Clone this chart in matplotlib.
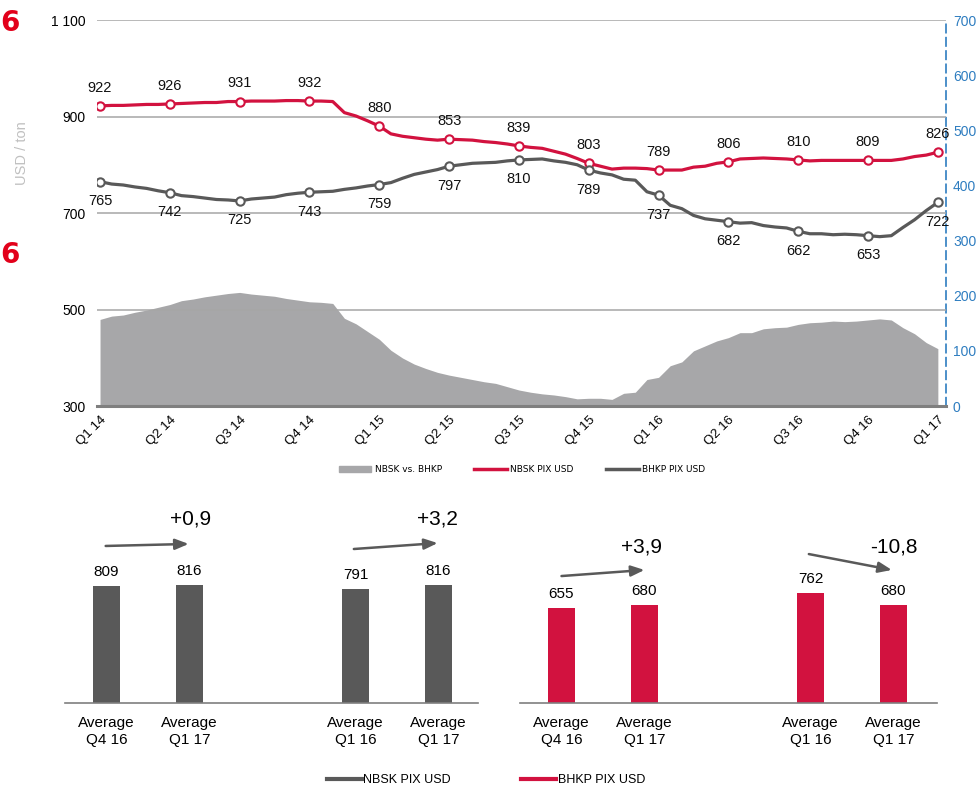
import numpy as np
import matplotlib
matplotlib.use('Agg')
import matplotlib.pyplot as plt
from matplotlib.lines import Line2D
from matplotlib.patches import Patch

plt.rcParams['font.family'] = ['Liberation Sans', 'DejaVu Sans']

RED = '#d2123f'
DARK = '#595959'
AREA = '#a7a7a9'
BLUE = '#2e7dc0'
GRID = '#a6a6a6'

# Quarter tick labels (one every 6 points, ~ bi-weekly data)
quarters = ['Q1 14', 'Q2 14', 'Q3 14', 'Q4 14', 'Q1 15', 'Q2 15', 'Q3 15',
            'Q4 15', 'Q1 16', 'Q2 16', 'Q3 16', 'Q4 16', 'Q1 17']

nbsk = [922, 923, 923, 924, 925, 925, 926, 927, 928, 929, 929, 931,
        931, 932, 932, 932, 933, 933, 932, 932, 931, 908, 901, 891,
        880, 864, 859, 856, 853, 851, 853, 852, 851, 848, 846, 843,
        839, 836, 834, 828, 822, 813, 803, 797, 791, 793, 793, 792,
        789, 789, 789, 795, 797, 803, 806, 812, 813, 814, 813, 812,
        810, 808, 809, 809, 809, 809, 809, 809, 809, 812, 817, 820,
        826]

bhkp = [765, 760, 758, 754, 751, 746, 742, 736, 734, 731, 728, 727,
        725, 729, 731, 733, 738, 741, 743, 744, 745, 749, 752, 756,
        759, 763, 772, 780, 785, 790, 797, 800, 803, 804, 805, 808,
        810, 811, 812, 808, 805, 800, 789, 783, 779, 770, 768, 744,
        737, 716, 709, 695, 688, 685, 682, 679, 680, 674, 671, 669,
        662, 657, 657, 655, 656, 655, 653, 651, 653, 670, 686, 705,
        722]

# NBSK vs. BHKP spread (right axis)
spread = [157, 163, 165, 170, 174, 179, 184, 191, 194, 198, 201, 204,
          206, 203, 201, 199, 195, 192, 189, 188, 186, 159, 149, 135,
          121, 101, 87, 76, 68, 61, 56, 52, 48, 44, 41, 35,
          29, 25, 22, 20, 17, 13, 14, 14, 12, 23, 25, 48,
          52, 73, 80, 100, 109, 118, 124, 133, 133, 140, 142, 143,
          148, 151, 152, 154, 153, 154, 156, 158, 156, 142, 131, 115,
          104]

# Bottom bar panels
bar_labels = ['Average\nQ4 16', 'Average\nQ1 17', 'Average\nQ1 16', 'Average\nQ1 17']
nbsk_bars = [809, 816, 791, 816]
bhkp_bars = [655, 680, 762, 680]
nbsk_changes = ['+0,9', '+3,2']
bhkp_changes = ['+3,9', '-10,8']

fig = plt.figure(figsize=(9.78, 7.87), dpi=100)

# ---------------- top line chart ----------------
W, H = 978.0, 787.0
ax = fig.add_axes([97 / W, 1 - 406 / H, (946 - 97) / W, (406 - 20) / H])
x = np.arange(len(nbsk))
step = 6
ax2 = ax.twinx()

ax2.fill_between(x, 0, spread, color=AREA, linewidth=0, zorder=1)
ax2.set_ylim(0, 700)
ax2.set_yticks(range(0, 701, 100))
ax2.tick_params(axis='y', colors=BLUE, labelsize=10, length=0, pad=5)
for s in ['top', 'left', 'bottom']:
    ax2.spines[s].set_visible(False)
ax2.spines['right'].set_color(BLUE)
ax2.spines['right'].set_linestyle((0, (5, 3)))
ax2.spines['right'].set_linewidth(1.2)

ax.set_zorder(ax2.get_zorder() + 1)
ax.patch.set_visible(False)
ax.set_ylim(300, 1100)
ax.set_yticks([300, 500, 700, 900, 1100])
ax.set_yticklabels(['300', '500', '700', '900', '1 100'])
ax.set_xlim(-0.26, 72.7)
ax.set_xticks(x[::step])
ax.set_xticklabels(quarters, rotation=45, ha='right', rotation_mode='anchor')
ax.tick_params(axis='x', length=0, pad=6, labelsize=9.5)
ax.tick_params(axis='y', length=0, pad=8, labelsize=10)
for yv in [500, 700, 900, 1100]:
    ax.axhline(yv, color=GRID, lw=1.1, zorder=0)
for s in ['top', 'left', 'right']:
    ax.spines[s].set_visible(False)
ax.spines['bottom'].set_color('#7f7f7f')
ax.spines['bottom'].set_linewidth(2.2)

ax.plot(x, nbsk, color=RED, lw=2.3, zorder=3)
ax.plot(x, bhkp, color=DARK, lw=2.3, zorder=3)
mk = x[::step]
ax.plot(mk, np.array(nbsk)[mk], 'o', ms=6, mfc='white', mec=RED, mew=1.5, zorder=4)
ax.plot(mk, np.array(bhkp)[mk], 'o', ms=6, mfc='white', mec=DARK, mew=1.5, zorder=4)
for i in mk:
    ax.annotate(str(nbsk[i]), (i, nbsk[i]), xytext=(0, 13), textcoords='offset points',
                ha='center', va='center', fontsize=10.5, color='#111111')
    ax.annotate(str(bhkp[i]), (i, bhkp[i]), xytext=(0, -14), textcoords='offset points',
                ha='center', va='center', fontsize=10.5, color='#111111')

fig.text(22 / W, 1 - 153 / H, 'USD / ton', rotation=90, ha='center', va='center',
         fontsize=10.5, color='#c0c0c0')
fig.text(0.0, 1 - 23 / H, '6', fontsize=20, fontweight='bold', color='#e2001a',
         family='DejaVu Sans', ha='left', va='center')
fig.text(0.0, 1 - 255 / H, '6', fontsize=20, fontweight='bold', color='#e2001a',
         family='DejaVu Sans', ha='left', va='center')

top_handles = [Patch(color=AREA), Line2D([], [], color=RED, lw=2.5),
               Line2D([], [], color=DARK, lw=2.5)]
fig.legend(top_handles, ['NBSK vs. BHKP', 'NBSK PIX USD', 'BHKP PIX USD'],
           loc='center', bbox_to_anchor=(522 / W, 1 - 470 / H), ncol=3, frameon=False,
           prop={'family': 'DejaVu Sans', 'size': 6.5}, handlelength=3.6,
           handleheight=0.6, handletextpad=0.4, columnspacing=3.6)

# ---------------- bottom bar panels ----------------
pos = [0, 1, 3, 4]
scale = 0.1446  # px per USD
ymax = 200 / scale


def bar_panel(left, right, values, color, changes, arrows, texts):
    bax = fig.add_axes([left / W, 1 - 703 / H, (right - left) / W, 200 / H])
    bax.bar(pos, values, width=0.33, color=color, zorder=2)
    bax.set_xlim(-0.5, (right - left) / 83.0 - 0.5)
    bax.set_ylim(0, ymax)
    bax.set_yticks([])
    bax.set_xticks(pos)
    bax.set_xticklabels(bar_labels, fontsize=11, linespacing=1.3)
    bax.tick_params(axis='x', length=0, pad=9)
    for s in ['top', 'left', 'right']:
        bax.spines[s].set_visible(False)
    bax.spines['bottom'].set_color('#7f7f7f')
    bax.spines['bottom'].set_linewidth(1.2)
    bax.patch.set_visible(False)
    for p, v in zip(pos, values):
        bax.annotate(str(v), (p, v), xytext=(0, 5), textcoords='offset points',
                     ha='center', va='bottom', fontsize=11)
    for (x0, y0, x1, y1) in arrows:
        bax.annotate('', xy=(x1, y1), xytext=(x0, y0),
                     arrowprops=dict(arrowstyle='-|>,head_length=0.8,head_width=0.32',
                                     color=DARK, lw=1.8, shrinkA=0, shrinkB=0))
    for lab, (tx, ty) in zip(changes, texts):
        bax.text(tx, ty, lab, ha='center', va='center', fontsize=15)
    return bax


bar_panel(65, 478, nbsk_bars, DARK, nbsk_changes,
          [(-0.01, 1086, 0.99, 1100), (2.98, 1065, 3.99, 1106)],
          [(1.01, 1272), (3.99, 1272)])
bar_panel(520, 937, bhkp_bars, RED, bhkp_changes,
          [(0.0, 878, 1.0, 920), (2.98, 1030, 3.98, 920)],
          [(0.96, 1079), (4.0, 1079)])

bottom_handles = [Line2D([], [], color=DARK, lw=3), Line2D([], [], color=RED, lw=3)]
fig.legend(bottom_handles, ['NBSK PIX USD', 'BHKP PIX USD'], loc='center',
           bbox_to_anchor=(486 / W, 1 - 780 / H), ncol=2, frameon=False,
           prop={'size': 9}, handlelength=2.8, handletextpad=0.15, columnspacing=5.6)

fig.savefig('out.png', dpi=100)
